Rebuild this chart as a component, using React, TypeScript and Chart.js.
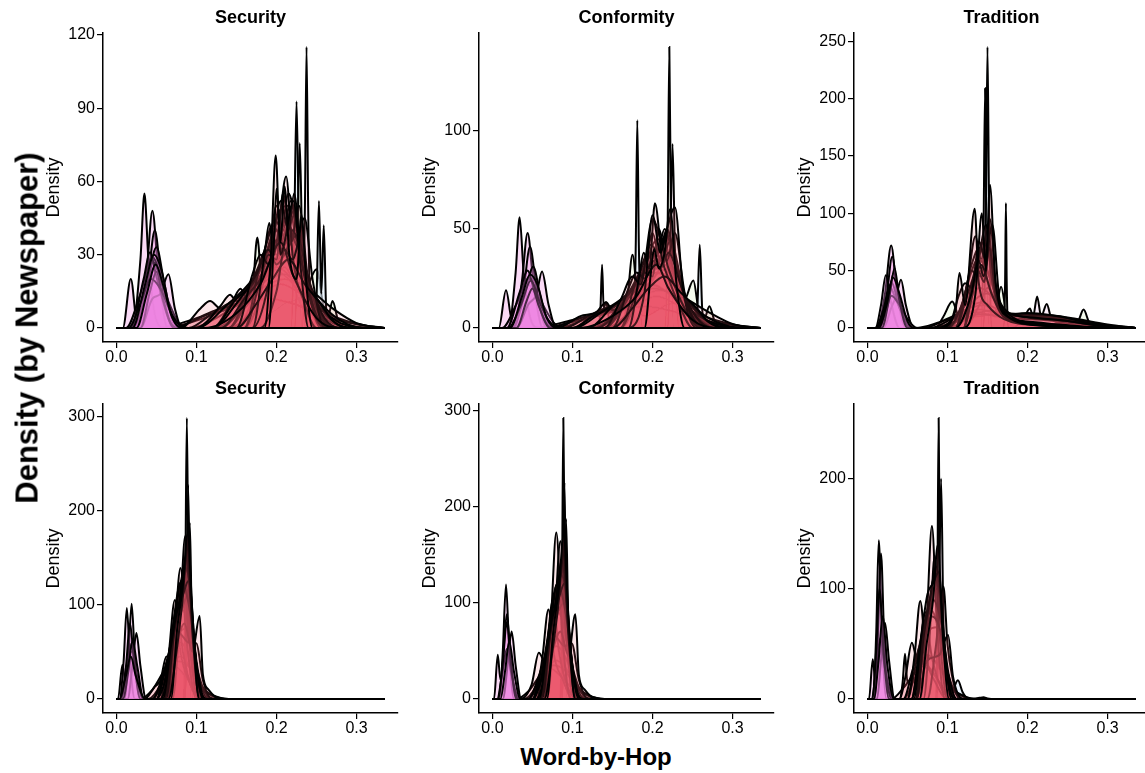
import React, { useEffect, useRef } from "react";
import { Chart, registerables } from "chart.js";
Chart.register(...registerables);

type Pt = [number, number];
type Curve = Pt[];

const FONT = "'Liberation Sans', Arial, Helvetica, sans-serif";
const X_TICKS = [0, 0.1, 0.2, 0.3];
const X_DATA_START = 0;
const X_DATA_END = 0.335;

const panelTitles = ["Security", "Conformity", "Tradition", "Security", "Conformity", "Tradition"];
const secTopTicks = [0, 30, 60, 90, 120];
const confTopTicks = [0, 50, 100];
const tradTopTicks = [0, 50, 100, 150, 200, 250];
const secBotTicks = [0, 100, 200, 300];
const confBotTicks = [0, 100, 200, 300];
const tradBotTicks = [0, 100, 200];

// ---------- Security (top) ----------
const secTopLeft: Curve[] = [
  [[0.008, 0], [0.018, 20], [0.026, 2], [0.034, 10], [0.045, 24], [0.058, 12], [0.072, 0]],
  [[0.02, 0], [0.03, 28], [0.035, 55], [0.04, 28], [0.05, 3], [0.06, 0]],
  [[0.028, 0], [0.038, 24], [0.045, 48], [0.052, 24], [0.064, 0]],
  [[0.026, 0], [0.04, 22], [0.048, 40], [0.056, 20], [0.07, 0]],
  [[0.022, 0], [0.038, 17], [0.05, 33], [0.06, 18], [0.074, 0]],
  [[0.012, 0], [0.03, 14], [0.045, 29], [0.06, 15], [0.078, 2], [0.09, 0]],
  [[0.02, 0], [0.035, 12], [0.046, 27], [0.055, 20], [0.065, 9], [0.082, 0]],
  [[0.03, 0], [0.045, 12], [0.055, 14], [0.065, 22], [0.073, 8], [0.082, 0]],
  [[0.018, 0], [0.034, 20], [0.042, 31], [0.05, 21], [0.066, 3], [0.076, 0]],
  [[0.03, 0], [0.042, 15], [0.05, 23], [0.058, 12], [0.072, 0]],
  [[0.015, 0], [0.03, 10], [0.043, 20], [0.055, 16], [0.07, 5], [0.085, 0]],
  [[0.02, 0], [0.036, 18], [0.047, 30], [0.056, 24], [0.068, 6], [0.08, 0]],
  [[0.025, 0], [0.038, 14], [0.049, 26], [0.058, 18], [0.07, 4], [0.082, 0]],
];
const secTopRight: Curve[] = [
  [[0.06, 0], [0.1, 3], [0.14, 8], [0.18, 14], [0.205, 18], [0.23, 14], [0.27, 5], [0.31, 1], [0.335, 0]],
  [[0.09, 0], [0.13, 5], [0.17, 15], [0.2, 25], [0.225, 18], [0.26, 5], [0.3, 0.5], [0.33, 0]],
  [[0.05, 0], [0.1, 4], [0.13, 8], [0.16, 10], [0.19, 12], [0.22, 10], [0.26, 5], [0.3, 1.5], [0.335, 0]],
  [[0.07, 0], [0.11, 5], [0.15, 9], [0.18, 16], [0.21, 20], [0.24, 16], [0.27, 8], [0.3, 2], [0.335, 0]],
  [[0.09, 0], [0.12, 6], [0.15, 12], [0.175, 20], [0.195, 24], [0.215, 20], [0.24, 10], [0.27, 2], [0.3, 0]],
  [[0.1, 0], [0.13, 8], [0.16, 14], [0.185, 22], [0.205, 30], [0.225, 24], [0.25, 12], [0.28, 3], [0.31, 0]],
  [[0.12, 0], [0.16, 8], [0.19, 22], [0.21, 30], [0.23, 22], [0.26, 6], [0.29, 0]],
  [[0.14, 0], [0.18, 12], [0.2, 26], [0.215, 35], [0.23, 24], [0.25, 8], [0.28, 0]],
  [[0.08, 0], [0.105, 8], [0.117, 11], [0.13, 8], [0.16, 12], [0.19, 20], [0.21, 22], [0.24, 12], [0.28, 2], [0.32, 0]],
  [[0.1, 0], [0.13, 9], [0.142, 13.6], [0.15, 11], [0.17, 16], [0.2, 28], [0.22, 30], [0.24, 18], [0.27, 3], [0.3, 0]],
  [[0.12, 0], [0.145, 11], [0.155, 16], [0.165, 11], [0.19, 25], [0.21, 40], [0.225, 28], [0.25, 6], [0.27, 0]],
  [[0.16, 0], [0.185, 20], [0.2, 45], [0.215, 50], [0.225, 35], [0.24, 10], [0.26, 0]],
  [[0.1, 0], [0.14, 10], [0.17, 20], [0.19, 32], [0.2, 30], [0.215, 42], [0.23, 28], [0.25, 8], [0.27, 0]],
  [[0.13, 0], [0.165, 14], [0.185, 28], [0.195, 38], [0.205, 30], [0.218, 48], [0.232, 30], [0.25, 6], [0.265, 0]],
  [[0.14, 0], [0.17, 16], [0.19, 30], [0.2, 50], [0.21, 36], [0.225, 40], [0.24, 14], [0.26, 0]],
  [[0.14, 0], [0.165, 15], [0.18, 25], [0.195, 42], [0.205, 38], [0.215, 55], [0.228, 35], [0.245, 10], [0.26, 0]],
  [[0.12, 0], [0.15, 12], [0.17, 18], [0.185, 28], [0.2, 40], [0.21, 34], [0.222, 46], [0.24, 18], [0.26, 3], [0.28, 0]],
  [[0.16, 0], [0.178, 24], [0.188, 35], [0.198, 44], [0.208, 40], [0.218, 52], [0.23, 32], [0.245, 10], [0.26, 0]],
  [[0.13, 0], [0.16, 12], [0.18, 20], [0.19, 26], [0.2, 34], [0.212, 44], [0.222, 36], [0.235, 26], [0.25, 8], [0.27, 0]],
  [[0.16, 0], [0.18, 20], [0.19, 30], [0.2, 28], [0.208, 55], [0.218, 35], [0.228, 50], [0.24, 18], [0.255, 0]],
  [[0.12, 0], [0.15, 10], [0.175, 22], [0.19, 32], [0.2, 26], [0.21, 30], [0.225, 38], [0.24, 20], [0.26, 4], [0.28, 0]],
  [[0.15, 0], [0.17, 22], [0.18, 30], [0.19, 26], [0.2, 36], [0.21, 30], [0.22, 40], [0.235, 22], [0.25, 5], [0.27, 0]],
  [[0.17, 0], [0.185, 30], [0.191, 43], [0.197, 30], [0.203, 42], [0.212, 62], [0.22, 30], [0.235, 10], [0.25, 0]],
  [[0.17, 0], [0.19, 18], [0.205, 52], [0.215, 40], [0.222, 55], [0.23, 30], [0.245, 8], [0.26, 0]],
  [[0.18, 0], [0.2, 15], [0.21, 32], [0.22, 28], [0.235, 45], [0.245, 20], [0.26, 0]],
  [[0.15, 0], [0.175, 10], [0.195, 20], [0.215, 28], [0.235, 18], [0.255, 10], [0.27, 3], [0.29, 0]],
  [[0.11, 0], [0.15, 6], [0.18, 18], [0.205, 35], [0.22, 22], [0.25, 4], [0.28, 0]],
  [[0.185, 0], [0.193, 30], [0.199, 70.6], [0.205, 30], [0.21, 35], [0.221, 52], [0.23, 25], [0.24, 0]],
  [[0.19, 0], [0.196, 30], [0.2, 57], [0.205, 35], [0.21, 58], [0.216, 30], [0.225, 20], [0.231, 46], [0.238, 15], [0.245, 0]],
];
const secTopSpikes: Curve[] = [
  [[0.16, 0], [0.17, 14], [0.176, 37], [0.182, 14], [0.19, 6], [0.21, 10], [0.235, 14], [0.25, 24], [0.258, 10], [0.264, 4], [0.27, 11], [0.277, 3], [0.29, 0]],
  [[0.15, 0], [0.17, 12], [0.185, 31], [0.195, 20], [0.21, 25], [0.23, 10], [0.25, 0]],
  [[0.218, 0], [0.222, 38], [0.225, 92.7], [0.228, 38], [0.232, 0]],
  [[0.223, 0], [0.226, 34], [0.229, 75.7], [0.232, 34], [0.236, 0]],
  [[0.232, 0], [0.2355, 50], [0.2375, 115], [0.2395, 50], [0.243, 0]],
  [[0.246, 0], [0.25, 12], [0.253, 52], [0.256, 14], [0.259, 42], [0.262, 8], [0.266, 0]],
];

// ---------- Conformity (top) ----------
const confTopLeft: Curve[] = [
  [[0.008, 0], [0.017, 19], [0.025, 3], [0.034, 10], [0.045, 22], [0.058, 12], [0.072, 0]],
  [[0.02, 0], [0.029, 28], [0.034, 56], [0.039, 28], [0.049, 3], [0.058, 0]],
  [[0.028, 0], [0.037, 24], [0.044, 48], [0.051, 24], [0.063, 0]],
  [[0.026, 0], [0.039, 20], [0.047, 41], [0.055, 20], [0.068, 0]],
  [[0.025, 0], [0.04, 16], [0.051, 31], [0.06, 16], [0.073, 0]],
  [[0.012, 0], [0.03, 12], [0.045, 25], [0.06, 14], [0.078, 2], [0.09, 0]],
  [[0.03, 0], [0.045, 12], [0.055, 17], [0.062, 28.5], [0.07, 12], [0.08, 0]],
  [[0.018, 0], [0.034, 18], [0.044, 29], [0.052, 19], [0.066, 3], [0.076, 0]],
  [[0.02, 0], [0.036, 12], [0.048, 24], [0.058, 14], [0.07, 4], [0.085, 0]],
  [[0.03, 0], [0.043, 14], [0.05, 20], [0.058, 11], [0.072, 0]],
  [[0.022, 0], [0.037, 16], [0.047, 27], [0.056, 22], [0.068, 5], [0.08, 0]],
];
const confTopRight: Curve[] = [
  [[0.06, 0], [0.1, 3], [0.14, 7], [0.18, 12], [0.205, 16], [0.23, 12], [0.27, 5], [0.31, 1], [0.335, 0]],
  [[0.08, 0], [0.12, 5], [0.16, 10], [0.2, 22], [0.225, 16], [0.26, 5], [0.3, 0.5], [0.33, 0]],
  [[0.05, 0], [0.1, 4], [0.13, 7], [0.16, 9], [0.19, 11], [0.22, 9], [0.26, 4], [0.3, 1.5], [0.335, 0]],
  [[0.07, 0], [0.11, 5], [0.15, 9], [0.18, 15], [0.21, 19], [0.24, 15], [0.27, 8], [0.3, 2], [0.335, 0]],
  [[0.09, 0], [0.12, 6], [0.15, 11], [0.175, 18], [0.195, 22], [0.215, 19], [0.24, 10], [0.27, 2], [0.3, 0]],
  [[0.1, 0], [0.13, 8], [0.16, 13], [0.185, 20], [0.205, 28], [0.225, 22], [0.25, 11], [0.28, 3], [0.31, 0]],
  [[0.12, 0], [0.16, 8], [0.19, 20], [0.21, 28], [0.23, 20], [0.26, 6], [0.29, 0]],
  [[0.14, 0], [0.18, 12], [0.2, 24], [0.215, 32], [0.23, 22], [0.25, 8], [0.28, 0]],
  [[0.08, 0], [0.11, 6], [0.13, 8], [0.142, 13], [0.15, 9], [0.17, 12], [0.2, 20], [0.22, 18], [0.25, 8], [0.28, 2], [0.32, 0]],
  [[0.1, 0], [0.13, 7], [0.15, 10], [0.17, 16], [0.2, 30], [0.22, 28], [0.24, 16], [0.27, 3], [0.3, 0]],
  [[0.13, 0], [0.16, 12], [0.18, 22], [0.2, 35], [0.21, 41], [0.225, 28], [0.25, 6], [0.27, 0]],
  [[0.16, 0], [0.185, 20], [0.2, 42], [0.212, 45], [0.225, 30], [0.24, 10], [0.26, 0]],
  [[0.1, 0], [0.14, 9], [0.17, 18], [0.19, 30], [0.2, 28], [0.215, 40], [0.23, 26], [0.25, 8], [0.27, 0]],
  [[0.13, 0], [0.165, 13], [0.185, 26], [0.195, 36], [0.205, 30], [0.218, 46], [0.232, 28], [0.25, 6], [0.265, 0]],
  [[0.14, 0], [0.17, 15], [0.19, 28], [0.2, 48], [0.21, 34], [0.225, 38], [0.24, 14], [0.26, 0]],
  [[0.14, 0], [0.165, 14], [0.18, 24], [0.195, 38], [0.205, 36], [0.215, 50], [0.228, 32], [0.245, 10], [0.26, 0]],
  [[0.12, 0], [0.15, 11], [0.17, 17], [0.185, 26], [0.2, 38], [0.21, 32], [0.222, 44], [0.24, 17], [0.26, 3], [0.28, 0]],
  [[0.16, 0], [0.178, 22], [0.188, 32], [0.198, 42], [0.208, 38], [0.218, 50], [0.23, 30], [0.245, 10], [0.26, 0]],
  [[0.16, 0], [0.18, 18], [0.19, 28], [0.2, 26], [0.208, 50], [0.218, 34], [0.228, 48], [0.24, 18], [0.255, 0]],
  [[0.15, 0], [0.17, 20], [0.18, 28], [0.19, 25], [0.2, 34], [0.21, 30], [0.22, 38], [0.235, 22], [0.25, 5], [0.27, 0]],
  [[0.14, 0], [0.16, 14], [0.175, 26], [0.185, 22], [0.2, 55], [0.21, 45], [0.22, 30], [0.24, 10], [0.26, 0]],
  [[0.17, 0], [0.183, 25], [0.189, 38], [0.196, 30], [0.203, 63], [0.212, 35], [0.22, 25], [0.235, 10], [0.25, 0]],
  [[0.17, 0], [0.19, 18], [0.2, 57], [0.21, 38], [0.218, 50], [0.228, 61], [0.238, 20], [0.255, 0]],
  [[0.15, 0], [0.175, 10], [0.195, 20], [0.215, 26], [0.235, 18], [0.255, 10], [0.27, 3], [0.29, 0]],
  [[0.11, 0], [0.15, 6], [0.18, 16], [0.205, 32], [0.22, 20], [0.25, 4], [0.28, 0]],
  [[0.19, 0], [0.198, 28], [0.202, 40], [0.208, 30], [0.215, 38], [0.222, 60], [0.23, 22], [0.24, 0]],
];
const confTopSpikes: Curve[] = [
  [[0.16, 0], [0.168, 12], [0.175, 37], [0.182, 12], [0.19, 6], [0.22, 12], [0.24, 14], [0.251, 24], [0.258, 8], [0.265, 5], [0.271, 11], [0.278, 3], [0.29, 0]],
  [[0.132, 0], [0.135, 10], [0.137, 32], [0.139, 10], [0.142, 13], [0.146, 4], [0.152, 0]],
  [[0.176, 0], [0.179, 40], [0.181, 105], [0.183, 40], [0.187, 0]],
  [[0.216, 0], [0.219, 55], [0.221, 142], [0.223, 55], [0.226, 0]],
  [[0.219, 0], [0.222, 40], [0.225, 93], [0.228, 40], [0.233, 0]],
  [[0.252, 0], [0.256, 10], [0.259, 42], [0.262, 10], [0.266, 0]],
];

// ---------- Tradition (top) ----------
const tradTopLeft: Curve[] = [
  [[0.012, 0], [0.022, 30], [0.0297, 72], [0.037, 30], [0.048, 0]],
  [[0.01, 0], [0.017, 20], [0.023, 46], [0.029, 24], [0.04, 0]],
  [[0.015, 0], [0.024, 28], [0.031, 62], [0.038, 28], [0.05, 0]],
  [[0.02, 0], [0.03, 18], [0.036, 28], [0.042, 42], [0.048, 20], [0.058, 0]],
  [[0.01, 0], [0.02, 16], [0.028, 36], [0.036, 24], [0.048, 6], [0.06, 0]],
  [[0.012, 0], [0.022, 18], [0.03, 40], [0.04, 18], [0.055, 0]],
  [[0.015, 0], [0.025, 22], [0.033, 48], [0.041, 22], [0.052, 0]],
  [[0.01, 0], [0.022, 12], [0.03, 28], [0.04, 20], [0.05, 8], [0.062, 0]],
  [[0.018, 0], [0.027, 25], [0.034, 52], [0.04, 24], [0.05, 0]],
  [[0.014, 0], [0.024, 20], [0.032, 44], [0.04, 30], [0.05, 6], [0.058, 0]],
];
const tradTopRight: Curve[] = [
  [[0.06, 0], [0.09, 5], [0.12, 12], [0.14, 16], [0.165, 12], [0.2, 10], [0.24, 8], [0.28, 3], [0.335, 0]],
  [[0.07, 0], [0.1, 8], [0.13, 18], [0.15, 20], [0.17, 13], [0.2, 11], [0.24, 9], [0.29, 3], [0.335, 0]],
  [[0.08, 0], [0.11, 6], [0.135, 14], [0.16, 10], [0.19, 8], [0.22, 7], [0.26, 4], [0.3, 1], [0.335, 0]],
  [[0.08, 0], [0.1, 6], [0.12, 14], [0.14, 22], [0.16, 14], [0.19, 10], [0.22, 10], [0.26, 7], [0.3, 2], [0.335, 0]],
  [[0.1, 0], [0.13, 10], [0.15, 15], [0.17, 13], [0.2, 12], [0.23, 11], [0.26, 8], [0.3, 3], [0.335, 0]],
  [[0.09, 0], [0.12, 8], [0.14, 12], [0.165, 11], [0.2, 13], [0.24, 10], [0.28, 4], [0.335, 0]],
  [[0.09, 0], [0.11, 10], [0.125, 22], [0.14, 35], [0.155, 28], [0.17, 15], [0.2, 9], [0.24, 7], [0.28, 3], [0.335, 0]],
  [[0.12, 0], [0.14, 20], [0.15, 35], [0.16, 25], [0.18, 12], [0.21, 9], [0.25, 6], [0.3, 1], [0.335, 0]],
  [[0.09, 0], [0.12, 12], [0.135, 25], [0.15, 30], [0.165, 18], [0.18, 8], [0.21, 5], [0.25, 2], [0.3, 0]],
  [[0.1, 0], [0.12, 18], [0.13, 40], [0.14, 50], [0.15, 40], [0.165, 14], [0.19, 6], [0.24, 3], [0.3, 0]],
  [[0.1, 0], [0.118, 20], [0.128, 45], [0.138, 60], [0.146, 55], [0.155, 40], [0.165, 18], [0.18, 8], [0.22, 3], [0.28, 0]],
  [[0.1, 0], [0.12, 25], [0.13, 55], [0.14, 70], [0.15, 50], [0.16, 30], [0.18, 10], [0.22, 3], [0.28, 0]],
  [[0.11, 0], [0.122, 30], [0.13, 50], [0.14, 45], [0.15, 65], [0.158, 35], [0.17, 12], [0.2, 5], [0.26, 1], [0.3, 0]],
  [[0.11, 0], [0.125, 40], [0.135, 80], [0.142, 60], [0.15, 85], [0.16, 35], [0.175, 10], [0.22, 2], [0.28, 0]],
  [[0.11, 0], [0.125, 30], [0.135, 45], [0.145, 75], [0.155, 55], [0.165, 20], [0.18, 8], [0.23, 2], [0.29, 0]],
  [[0.12, 0], [0.13, 38], [0.14, 65], [0.148, 90], [0.155, 45], [0.165, 15], [0.19, 5], [0.25, 1], [0.3, 0]],
  [[0.12, 0], [0.132, 40], [0.14, 75], [0.147, 60], [0.153, 95], [0.16, 40], [0.17, 15], [0.2, 4], [0.26, 0]],
  [[0.12, 0], [0.13, 25], [0.138, 50], [0.146, 40], [0.152, 70], [0.16, 30], [0.17, 12], [0.2, 5], [0.25, 1], [0.3, 0]],
  [[0.1, 0], [0.115, 30], [0.122, 39], [0.13, 35], [0.142, 55], [0.155, 30], [0.17, 10], [0.2, 4], [0.26, 1], [0.32, 0]],
  [[0.09, 0], [0.11, 15], [0.115, 48], [0.122, 20], [0.134, 104], [0.139, 40], [0.15, 20], [0.17, 8], [0.22, 2], [0.28, 0]],
  [[0.11, 0], [0.13, 30], [0.139, 59], [0.145, 45], [0.156, 90], [0.165, 25], [0.18, 8], [0.23, 2], [0.29, 0]],
  [[0.12, 0], [0.135, 30], [0.143, 100], [0.148, 50], [0.153, 125], [0.16, 40], [0.175, 10], [0.22, 2], [0.28, 0]],
];
const tradTopSpikes: Curve[] = [
  [[0.085, 0], [0.095, 10], [0.106, 23], [0.113, 12], [0.12, 8], [0.135, 10], [0.16, 15], [0.167, 36], [0.174, 12], [0.19, 5], [0.22, 3], [0.25, 4], [0.263, 6], [0.27, 16], [0.277, 5], [0.29, 0]],
  [[0.142, 0], [0.145, 80], [0.147, 209], [0.1485, 90], [0.152, 0]],
  [[0.145, 0], [0.148, 100], [0.15, 245], [0.152, 100], [0.155, 0]],
  [[0.17, 0], [0.172, 40], [0.173, 109], [0.174, 40], [0.176, 0]],
  [[0.18, 0], [0.195, 8], [0.203, 17], [0.207, 10], [0.212, 27.5], [0.217, 10], [0.224, 21], [0.23, 8], [0.245, 4], [0.27, 2], [0.3, 0]],
];

// ---------- Security (bottom) ----------
const secBotLeft: Curve[] = [
  [[0.002, 0], [0.0075, 36], [0.011, 20], [0.015, 45], [0.02, 50], [0.026, 20], [0.035, 0]],
  [[0.004, 0], [0.009, 40], [0.013, 96.6], [0.017, 40], [0.023, 0]],
  [[0.01, 0], [0.015, 45], [0.019, 101], [0.023, 45], [0.029, 0]],
  [[0.014, 0], [0.02, 35], [0.025, 70], [0.03, 35], [0.037, 0]],
  [[0.006, 0], [0.013, 28], [0.019, 59], [0.025, 28], [0.033, 0]],
  [[0.005, 0], [0.012, 35], [0.017, 80], [0.022, 40], [0.03, 0]],
  [[0.008, 0], [0.015, 30], [0.02, 62], [0.026, 35], [0.034, 0]],
  [[0.004, 0], [0.012, 25], [0.018, 45], [0.024, 25], [0.036, 0]],
];
const secBotRight: Curve[] = [
  [[0.03, 0], [0.045, 10], [0.06, 30], [0.08, 45], [0.095, 30], [0.11, 10], [0.125, 2], [0.14, 0]],
  [[0.04, 0], [0.055, 15], [0.068, 45], [0.08, 60], [0.092, 45], [0.105, 15], [0.12, 3], [0.135, 0]],
  [[0.035, 0], [0.048, 13], [0.055, 20], [0.0625, 45], [0.07, 38], [0.08, 30], [0.095, 15], [0.11, 3], [0.125, 0]],
  [[0.045, 0], [0.06, 20], [0.075, 40], [0.09, 35], [0.105, 12], [0.12, 4], [0.14, 0]],
  [[0.045, 0], [0.058, 25], [0.068, 55], [0.078, 70], [0.088, 75], [0.098, 40], [0.11, 8], [0.125, 0]],
  [[0.05, 0], [0.06, 30], [0.07, 60], [0.078, 85], [0.086, 100], [0.095, 55], [0.105, 15], [0.115, 0]],
  [[0.05, 0], [0.062, 35], [0.072, 75], [0.082, 95], [0.092, 70], [0.1, 25], [0.112, 0]],
  [[0.055, 0], [0.065, 45], [0.073, 105], [0.08, 50], [0.09, 20], [0.105, 0]],
  [[0.058, 0], [0.068, 40], [0.076, 95], [0.083, 50], [0.095, 10], [0.108, 0]],
  [[0.055, 0], [0.066, 50], [0.074, 95], [0.081, 120], [0.088, 105], [0.096, 40], [0.106, 0]],
  [[0.062, 0], [0.072, 60], [0.08, 139], [0.088, 60], [0.1, 0]],
  [[0.065, 0], [0.075, 60], [0.083, 134], [0.091, 60], [0.102, 0]],
  [[0.07, 0], [0.079, 80], [0.086, 173], [0.093, 80], [0.103, 0]],
  [[0.05, 0], [0.065, 30], [0.078, 70], [0.09, 60], [0.1, 59], [0.108, 20], [0.12, 0]],
  [[0.055, 0], [0.07, 40], [0.085, 80], [0.095, 50], [0.104, 88], [0.108, 26], [0.115, 10], [0.13, 0]],
  [[0.06, 0], [0.07, 50], [0.08, 90], [0.09, 110], [0.1, 40], [0.11, 0]],
  [[0.065, 0], [0.075, 70], [0.085, 120], [0.092, 100], [0.1, 30], [0.11, 0]],
  [[0.06, 0], [0.069, 65], [0.077, 115], [0.084, 130], [0.09, 140], [0.097, 60], [0.106, 0]],
  [[0.064, 0], [0.073, 80], [0.081, 125], [0.088, 110], [0.095, 75], [0.103, 15], [0.112, 0]],
  [[0.06, 0], [0.07, 60], [0.078, 100], [0.085, 140], [0.092, 120], [0.1, 35], [0.11, 0]],
  [[0.062, 0], [0.072, 70], [0.08, 110], [0.087, 150], [0.094, 90], [0.102, 20], [0.112, 0]],
  [[0.058, 0], [0.068, 55], [0.075, 90], [0.083, 110], [0.09, 125], [0.098, 50], [0.108, 0]],
  [[0.065, 0], [0.075, 50], [0.082, 100], [0.089, 160], [0.095, 70], [0.104, 0]],
  [[0.068, 0], [0.076, 75], [0.083, 120], [0.089, 175], [0.095, 90], [0.103, 0]],
];
const secBotSpikes: Curve[] = [
  [[0.084, 0], [0.086, 120], [0.088, 298], [0.09, 120], [0.093, 0]],
  [[0.085, 0], [0.0875, 100], [0.0896, 227], [0.092, 100], [0.095, 0]],
  [[0.086, 0], [0.089, 90], [0.0917, 187], [0.094, 90], [0.098, 0]],
];

// ---------- Conformity (bottom) ----------
const confBotLeft: Curve[] = [
  [[0.002, 0], [0.0067, 46], [0.01, 20], [0.015, 40], [0.019, 48], [0.025, 20], [0.034, 0]],
  [[0.009, 0], [0.013, 50], [0.017, 119], [0.021, 50], [0.027, 0]],
  [[0.008, 0], [0.013, 40], [0.018, 88], [0.023, 40], [0.03, 0]],
  [[0.013, 0], [0.019, 35], [0.024, 70], [0.029, 35], [0.036, 0]],
  [[0.006, 0], [0.012, 25], [0.018, 52], [0.024, 25], [0.032, 0]],
  [[0.007, 0], [0.013, 38], [0.018, 80], [0.023, 38], [0.03, 0]],
  [[0.01, 0], [0.016, 30], [0.021, 60], [0.027, 28], [0.035, 0]],
];
const confBotRight: Curve[] = [
  [[0.03, 0], [0.045, 8], [0.06, 25], [0.08, 40], [0.095, 28], [0.11, 10], [0.125, 2], [0.14, 0]],
  [[0.04, 0], [0.055, 14], [0.068, 42], [0.08, 55], [0.092, 42], [0.105, 14], [0.12, 3], [0.135, 0]],
  [[0.035, 0], [0.049, 15], [0.058, 48], [0.065, 38], [0.08, 28], [0.095, 15], [0.11, 3], [0.125, 0]],
  [[0.045, 0], [0.06, 18], [0.075, 35], [0.09, 30], [0.105, 12], [0.12, 4], [0.14, 0]],
  [[0.045, 0], [0.058, 24], [0.068, 50], [0.078, 65], [0.088, 70], [0.098, 38], [0.11, 8], [0.125, 0]],
  [[0.05, 0], [0.06, 28], [0.07, 55], [0.078, 80], [0.086, 95], [0.095, 50], [0.105, 14], [0.115, 0]],
  [[0.05, 0], [0.062, 30], [0.072, 70], [0.082, 90], [0.092, 65], [0.1, 22], [0.112, 0]],
  [[0.052, 0], [0.062, 40], [0.07, 93], [0.077, 45], [0.088, 20], [0.1, 0]],
  [[0.058, 0], [0.067, 45], [0.0756, 103], [0.083, 50], [0.095, 10], [0.107, 0]],
  [[0.055, 0], [0.066, 48], [0.074, 90], [0.081, 115], [0.088, 100], [0.096, 38], [0.106, 0]],
  [[0.065, 0], [0.073, 80], [0.0798, 173], [0.087, 70], [0.098, 0]],
  [[0.068, 0], [0.077, 70], [0.085, 164], [0.092, 70], [0.102, 0]],
  [[0.05, 0], [0.065, 30], [0.078, 65], [0.09, 55], [0.099, 58], [0.108, 20], [0.12, 0]],
  [[0.055, 0], [0.07, 35], [0.085, 70], [0.095, 45], [0.1036, 88], [0.108, 25], [0.115, 10], [0.13, 0]],
  [[0.06, 0], [0.07, 45], [0.08, 85], [0.09, 100], [0.1, 35], [0.11, 0]],
  [[0.065, 0], [0.075, 60], [0.085, 110], [0.092, 95], [0.1, 30], [0.11, 0]],
  [[0.06, 0], [0.069, 60], [0.077, 110], [0.084, 125], [0.09, 135], [0.097, 55], [0.106, 0]],
  [[0.064, 0], [0.073, 75], [0.081, 120], [0.088, 105], [0.095, 70], [0.103, 15], [0.112, 0]],
  [[0.06, 0], [0.07, 55], [0.078, 95], [0.085, 130], [0.092, 110], [0.1, 30], [0.11, 0]],
  [[0.062, 0], [0.072, 65], [0.08, 105], [0.087, 145], [0.094, 85], [0.102, 20], [0.112, 0]],
  [[0.058, 0], [0.068, 50], [0.075, 85], [0.083, 105], [0.09, 120], [0.098, 45], [0.108, 0]],
  [[0.065, 0], [0.075, 50], [0.082, 95], [0.089, 150], [0.095, 65], [0.104, 0]],
  [[0.068, 0], [0.076, 70], [0.083, 115], [0.089, 170], [0.095, 85], [0.103, 0]],
];
const confBotSpikes: Curve[] = [
  [[0.085, 0], [0.087, 120], [0.0886, 292], [0.0905, 120], [0.093, 0]],
  [[0.086, 0], [0.088, 100], [0.09, 225], [0.092, 100], [0.095, 0]],
  [[0.087, 0], [0.09, 90], [0.092, 187], [0.0945, 90], [0.098, 0]],
];

// ---------- Tradition (bottom) ----------
const tradBotLeft: Curve[] = [
  [[0.002, 0], [0.0067, 36], [0.01, 15], [0.014, 35], [0.018, 45], [0.024, 20], [0.032, 0]],
  [[0.007, 0], [0.011, 60], [0.0142, 144], [0.018, 60], [0.024, 0]],
  [[0.009, 0], [0.013, 55], [0.017, 132], [0.021, 55], [0.027, 0]],
  [[0.012, 0], [0.017, 35], [0.022, 69], [0.027, 35], [0.034, 0]],
  [[0.005, 0], [0.011, 27], [0.016, 55], [0.022, 27], [0.03, 0]],
  [[0.006, 0], [0.011, 45], [0.015, 100], [0.02, 45], [0.027, 0]],
  [[0.008, 0], [0.014, 35], [0.019, 75], [0.025, 30], [0.033, 0]],
];
const tradBotRight: Curve[] = [
  [[0.03, 0], [0.045, 10], [0.06, 25], [0.075, 40], [0.09, 28], [0.105, 10], [0.12, 2], [0.135, 0]],
  [[0.045, 0], [0.06, 20], [0.075, 38], [0.09, 30], [0.105, 10], [0.12, 3], [0.135, 0]],
  [[0.04, 0], [0.044, 15], [0.047, 41], [0.05, 15], [0.056, 20], [0.065, 30], [0.08, 25], [0.095, 10], [0.11, 0]],
  [[0.04, 0], [0.048, 22], [0.0555, 51], [0.062, 35], [0.075, 30], [0.09, 15], [0.105, 0]],
  [[0.045, 0], [0.056, 25], [0.066, 50], [0.076, 62], [0.086, 65], [0.096, 35], [0.108, 8], [0.12, 0]],
  [[0.05, 0], [0.06, 30], [0.07, 65], [0.08, 80], [0.09, 60], [0.1, 20], [0.11, 0]],
  [[0.05, 0], [0.059, 40], [0.066, 89], [0.073, 40], [0.085, 15], [0.1, 0]],
  [[0.055, 0], [0.064, 35], [0.072, 79], [0.08, 40], [0.092, 10], [0.105, 0]],
  [[0.055, 0], [0.065, 45], [0.073, 75], [0.08, 95], [0.088, 100], [0.096, 40], [0.106, 0]],
  [[0.066, 0], [0.074, 70], [0.0806, 157], [0.087, 65], [0.097, 0]],
  [[0.07, 0], [0.078, 60], [0.084, 130], [0.09, 60], [0.1, 0]],
  [[0.075, 0], [0.085, 45], [0.095, 102], [0.1, 50], [0.106, 20], [0.115, 0]],
  [[0.06, 0], [0.075, 35], [0.09, 40], [0.1007, 58], [0.107, 20], [0.12, 0]],
  [[0.055, 0], [0.07, 50], [0.08, 75], [0.09, 65], [0.1, 25], [0.11, 0]],
  [[0.06, 0], [0.072, 55], [0.082, 90], [0.092, 70], [0.102, 20], [0.112, 0]],
  [[0.06, 0], [0.068, 50], [0.076, 80], [0.083, 110], [0.09, 95], [0.098, 30], [0.108, 0]],
  [[0.062, 0], [0.07, 55], [0.078, 90], [0.086, 120], [0.093, 80], [0.1, 20], [0.11, 0]],
  [[0.058, 0], [0.067, 55], [0.075, 95], [0.082, 105], [0.089, 115], [0.096, 50], [0.105, 0]],
  [[0.065, 0], [0.074, 50], [0.082, 90], [0.088, 140], [0.094, 60], [0.102, 0]],
];
const tradBotSpikes: Curve[] = [
  [[0.086, 0], [0.0875, 110], [0.089, 255], [0.0905, 110], [0.093, 0]],
  [[0.087, 0], [0.0895, 90], [0.092, 200], [0.0945, 90], [0.097, 0]],
  [[0.1, 0], [0.106, 6], [0.113, 17], [0.119, 6], [0.126, 0]],
  [[0.13, 0], [0.14, 1], [0.145, 1.5], [0.15, 0.5], [0.16, 0]],
];

// ---------- layout & style ----------
const PLOT_LEFT = [103, 479, 854];
const PLOT_TOP = [33, 404];
const PLOT_W = 295;
const PLOT_H = 309;
const Y_BOX = 70;
const X_BOX = 30;
const TITLE_BOX = 33;
const PAD_R = 10;

const PINK_FILL = "rgba(240,134,224,0.30)";
const RED_FILL = "rgba(236,84,108,0.15)";
const PALE_FILLS = ["rgba(236,248,226,0.6)", "rgba(250,228,246,0.6)", "rgba(224,236,250,0.6)"];
const LINE = "#000";
const LINE_W = 2;

const PANELS = [
  { left: secTopLeft, right: secTopRight, spikes: secTopSpikes, ticks: secTopTicks },
  { left: confTopLeft, right: confTopRight, spikes: confTopSpikes, ticks: confTopTicks },
  { left: tradTopLeft, right: tradTopRight, spikes: tradTopSpikes, ticks: tradTopTicks },
  { left: secBotLeft, right: secBotRight, spikes: secBotSpikes, ticks: secBotTicks },
  { left: confBotLeft, right: confBotRight, spikes: confBotSpikes, ticks: confBotTicks },
  { left: tradBotLeft, right: tradBotRight, spikes: tradBotSpikes, ticks: tradBotTicks },
];

function toPoints(c: Curve) {
  const pts = c.map(([x, y]) => ({ x, y }));
  if (pts[0].x > X_DATA_START) pts.unshift({ x: X_DATA_START, y: 0 });
  if (pts[pts.length - 1].x < X_DATA_END) pts.push({ x: X_DATA_END, y: 0 });
  return pts;
}

function Panel({ idx }: { idx: number }) {
  const ref = useRef<HTMLCanvasElement>(null);
  const col = idx % 3;
  const row = Math.floor(idx / 3);
  const cLeft = PLOT_LEFT[col] - Y_BOX;
  const cTop = PLOT_TOP[row] - TITLE_BOX;
  const W = Y_BOX + PLOT_W + PAD_R;
  const H = TITLE_BOX + PLOT_H + X_BOX;

  useEffect(() => {
    const p = PANELS[idx];
    const mk = (c: Curve, fill: string) => ({
      data: toPoints(c),
      backgroundColor: fill,
      borderColor: LINE,
      borderWidth: LINE_W,
      fill: "origin",
      pointRadius: 0,
      cubicInterpolationMode: "monotone" as const,
    });
    // drawn bottom → top: pale spikes, red cluster, pink cluster
    const bottomUp = [
      ...p.spikes.map((c, i) => mk(c, PALE_FILLS[i % PALE_FILLS.length])),
      ...p.right.map((c) => mk(c, RED_FILL)),
      ...p.left.map((c) => mk(c, PINK_FILL)),
    ];
    const datasets = bottomUp.reverse();
    let yMaxData = 0;
    [...p.left, ...p.right, ...p.spikes].forEach((c) => c.forEach(([, y]) => (yMaxData = Math.max(yMaxData, y))));
    const xMin = X_DATA_START - 0.05 * (X_DATA_END - X_DATA_START);
    const xMax = X_DATA_END + 0.05 * (X_DATA_END - X_DATA_START);
    const tickFont = { family: FONT, size: 16 };
    const chart = new Chart(ref.current!, {
      type: "line",
      data: { datasets },
      options: {
        animation: false,
        responsive: false,
        devicePixelRatio: 1,
        events: [],
        layout: { padding: { left: 0, right: PAD_R, top: 0, bottom: 0 } },
        plugins: {
          legend: { display: false },
          tooltip: { enabled: false },
          title: {
            display: true,
            text: panelTitles[idx],
            fullSize: false,
            color: "#000",
            font: { family: FONT, size: 18, weight: "bold" },
            padding: { top: 7.5, bottom: TITLE_BOX - 7.5 - 21.6 },
          },
        },
        scales: {
          x: {
            type: "linear",
            min: xMin,
            max: xMax,
            afterBuildTicks: (s: any) => {
              s.ticks = X_TICKS.map((v) => ({ value: v }));
            },
            afterFit: (s: any) => {
              s.height = X_BOX;
            },
            ticks: {
              callback: (v: any) => Number(v).toFixed(1),
              font: tickFont,
              color: "#000",
              padding: 0,
              maxRotation: 0,
              autoSkip: false,
            },
            grid: { display: true, drawOnChartArea: false, drawTicks: true, tickLength: 6, color: "#000", lineWidth: 1.2 },
            border: { display: true, color: "#000", width: 1.5 },
          },
          y: {
            type: "linear",
            min: -0.05 * yMaxData,
            max: 1.05 * yMaxData,
            afterBuildTicks: (s: any) => {
              s.ticks = p.ticks.map((v) => ({ value: v }));
            },
            afterFit: (s: any) => {
              s.width = Y_BOX;
            },
            ticks: {
              callback: (v: any) => String(Math.round(Number(v))),
              font: tickFont,
              color: "#000",
              padding: 2,
              autoSkip: false,
            },
            grid: { display: true, drawOnChartArea: false, drawTicks: true, tickLength: 6, color: "#000", lineWidth: 1.2 },
            border: { display: true, color: "#000", width: 1.5 },
            title: {
              display: true,
              text: "Density",
              color: "#000",
              font: { family: FONT, size: 18 },
              padding: { top: 10.2, bottom: 0 },
            },
          },
        },
      } as any,
    });
    return () => chart.destroy();
  }, [idx]);

  return (
    <canvas
      ref={ref}
      width={W}
      height={H}
      style={{ position: "absolute", left: cLeft, top: cTop, width: W, height: H }}
    />
  );
}

export default function App() {
  return (
    <div
      style={{
        position: "fixed",
        left: 0,
        top: 0,
        width: 1145,
        height: 773,
        overflow: "hidden",
        background: "#fff",
        fontFamily: FONT,
      }}
    >
      {PANELS.map((_, i) => (
        <Panel key={i} idx={i} />
      ))}
      <div
        style={{
          position: "absolute",
          left: 27,
          top: 328,
          transform: "translate(-50%, -50%) rotate(-90deg)",
          fontSize: 31,
          fontWeight: "bold",
          lineHeight: 1,
          whiteSpace: "nowrap",
          color: "#000",
        }}
      >
        Density (by Newspaper)
      </div>
      <div
        style={{
          position: "absolute",
          left: 596,
          top: 745,
          transform: "translateX(-50%)",
          fontSize: 24,
          fontWeight: "bold",
          lineHeight: 1,
          whiteSpace: "nowrap",
          color: "#000",
        }}
      >
        Word-by-Hop
      </div>
    </div>
  );
}
